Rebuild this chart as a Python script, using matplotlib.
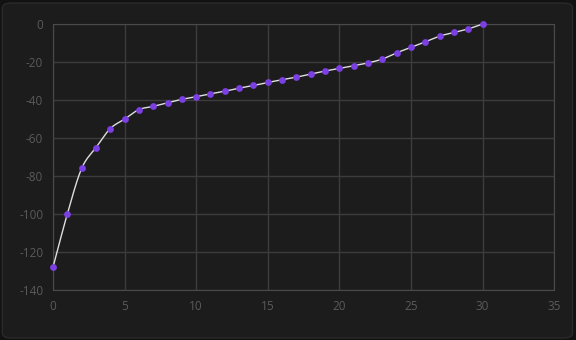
import numpy as np
import matplotlib
matplotlib.use("Agg")
import matplotlib.pyplot as plt
from matplotlib.patches import FancyBboxPatch

x_vals = list(range(31))
y_vals = [-128, -100, -76, -65, -55, -50, -45, -43.3, -41.4, -39.6, -38.2,
          -36.7, -35.3, -33.7, -32.3, -30.7, -29.3, -27.9, -26.3, -24.7, -23.3,
          -21.9, -20.4, -18.4, -15.1, -12.3, -9.3, -6.3, -4.4, -2.5, 0]
x_ticks = [0, 5, 10, 15, 20, 25, 30, 35]
y_ticks = [0, -20, -40, -60, -80, -100, -120, -140]

plt.rcParams["axes.unicode_minus"] = False


def catmull_rom(xs, ys, n=20):
    # smoothed line through the points, like a spreadsheet "smooth line"
    px = np.array(xs, dtype=float)
    py = np.array(ys, dtype=float)
    px = np.concatenate([[2 * px[0] - px[1]], px, [2 * px[-1] - px[-2]]])
    py = np.concatenate([[2 * py[0] - py[1]], py, [2 * py[-1] - py[-2]]])
    out_x, out_y = [], []
    t = np.linspace(0, 1, n, endpoint=False)
    for i in range(1, len(px) - 2):
        for arr, out in ((px, out_x), (py, out_y)):
            p0, p1, p2, p3 = arr[i - 1], arr[i], arr[i + 1], arr[i + 2]
            seg = 0.5 * ((2 * p1) + (-p0 + p2) * t
                         + (2 * p0 - 5 * p1 + 4 * p2 - p3) * t ** 2
                         + (-p0 + 3 * p1 - 3 * p2 + p3) * t ** 3)
            out.extend(seg)
    out_x.append(xs[-1])
    out_y.append(ys[-1])
    return out_x, out_y


fig = plt.figure(figsize=(5.76, 3.40), dpi=100)
fig.patch.set_facecolor("#121212")
bg = FancyBboxPatch((0.004, 0.006), 0.99, 0.985,
                    boxstyle="round,pad=0,rounding_size=0.015",
                    transform=fig.transFigure, facecolor="#1c1c1c",
                    edgecolor="#2a2a2a", linewidth=1, zorder=-5)
fig.patches.append(bg)

ax = fig.add_axes([0.092, 0.147, 0.870, 0.782])
ax.set_zorder(1)
ax.set_facecolor("#1c1c1c")

sx, sy = catmull_rom(x_vals, y_vals)
ax.plot(sx, sy, color="#dedede", linewidth=1.0, zorder=3, clip_on=False)
ax.scatter(x_vals, y_vals, s=24, color="#7b3fe4", zorder=4, linewidths=0,
           clip_on=False)

ax.set_xlim(0, 35)
ax.set_ylim(-140, 0)
ax.set_xticks(x_ticks)
ax.set_yticks(y_ticks)
ax.grid(True, color="#3c3c3c", linewidth=1)
ax.set_axisbelow(True)
for side in ax.spines:
    ax.spines[side].set_color("#4a4a4a")
ax.tick_params(length=0, pad=7, labelcolor="#5a5a5a", labelsize=8.5)
for lab in ax.get_xticklabels() + ax.get_yticklabels():
    lab.set_family("Open Sans")

fig.savefig("out.png", dpi=100, facecolor=fig.get_facecolor())
